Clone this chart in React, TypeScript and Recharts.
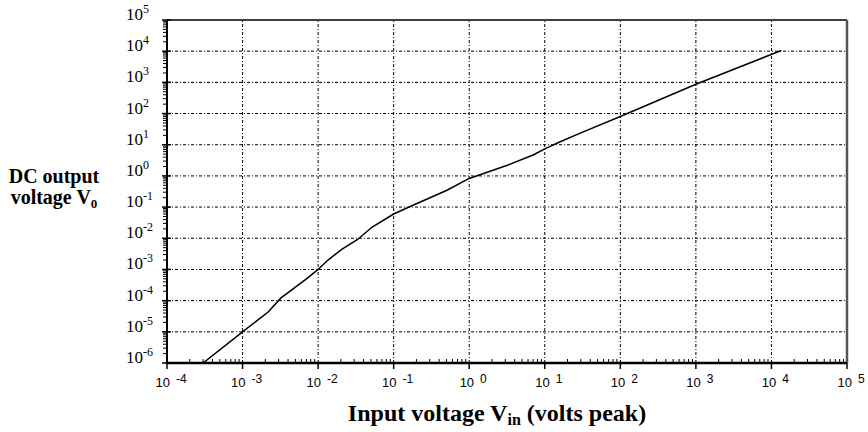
import { Line, LineChart, ReferenceLine, XAxis, YAxis } from 'recharts';

// values (log-log)
const inputVolts = [
  3e-4, 1e-3, 2.2e-3, 3.2e-3, 6.8e-3, 1e-2, 1.35e-2, 2.1e-2, 3.3e-2, 5.2e-2,
  1e-1, 1.8e-1, 0.5, 1, 3.2, 7, 10, 16, 30, 100, 1000, 1.35e4,
];
const outputVolts = [
  1e-6, 1e-5, 4.4e-5, 1.2e-4, 4.7e-4, 1e-3, 2e-3, 4.6e-3, 9e-3, 2.3e-2,
  6e-2, 1.15e-1, 0.34, 0.83, 2.2, 4.7, 7.4, 12.5, 24, 80, 870, 1.05e4,
];

const xDecades = [-4, -3, -2, -1, 0, 1, 2, 3, 4, 5];
const yDecades = [-6, -5, -4, -3, -2, -1, 0, 1, 2, 3, 4, 5];
const minorSteps = [2, 3, 4, 5, 6, 7, 8, 9];

const data = inputVolts.map((vin, i) => ({ vin, vout: outputVolts[i] }));

const majorX = xDecades.map((e) => Math.pow(10, e));
const majorY = yDecades.map((e) => Math.pow(10, e));
const minorX = xDecades
  .slice(0, -1)
  .flatMap((e) => minorSteps.map((m) => m * Math.pow(10, e)));
const minorY = yDecades
  .slice(0, -1)
  .flatMap((e) => minorSteps.map((m) => m * Math.pow(10, e)));

const majorXSet = new Set(majorX);
const majorYSet = new Set(majorY);

const gridDash = '3 2 1 2';

const XTick = (props: any) => {
  const { x, y, payload } = props;
  const v = payload.value;
  if (!majorXSet.has(v)) {
    return <line x1={x} x2={x} y1={y - 1} y2={y - 4} stroke="#000" />;
  }
  const e = Math.round(Math.log10(v));
  return (
    <g>
      <line x1={x} x2={x} y1={y} y2={y + 6} stroke="#000" strokeWidth={1.5} />
      <text
        x={x + 4}
        y={y + 24}
        textAnchor="middle"
        fontFamily="'Liberation Sans', Arial, sans-serif"
        fontSize={13}
        fill="#000"
      >
        10
        <tspan dx={6} dy={-4} fontSize={12}>
          {e}
        </tspan>
      </text>
    </g>
  );
};

const YTick = (props: any) => {
  const { x, y, payload } = props;
  const v = payload.value;
  if (!majorYSet.has(v)) {
    return <line x1={x} x2={x - 4} y1={y} y2={y} stroke="#000" />;
  }
  const e = Math.round(Math.log10(v));
  return (
    <g>
      <line x1={x - 5} x2={x + 4} y1={y} y2={y} stroke="#000" strokeWidth={1.5} />
      <text
        x={x - 41}
        y={y}
        textAnchor="start"
        fontFamily="'Liberation Serif', 'Times New Roman', serif"
        fontSize={17}
        fill="#000"
      >
        10
        <tspan dy={-7} fontSize={12}>
          {e}
        </tspan>
      </text>
    </g>
  );
};

export default function App() {
  return (
    <div
      style={{
        position: 'absolute',
        left: 0,
        top: 0,
        width: 868,
        height: 432,
        background: '#fff',
      }}
    >
      <LineChart
        width={868}
        height={432}
        data={data}
        margin={{ top: 20, right: 21, left: 0, bottom: 0 }}
      >
        {majorX.slice(1, -1).map((v) => (
          <ReferenceLine
            key={'vx' + v}
            x={v}
            stroke="#000"
            strokeWidth={1}
            strokeDasharray={gridDash}
          />
        ))}
        {majorY.slice(1, -1).map((v) => (
          <ReferenceLine
            key={'hy' + v}
            y={v}
            stroke="#000"
            strokeWidth={1}
            strokeDasharray={gridDash}
          />
        ))}
        <ReferenceLine y={1e5} stroke="#000" strokeWidth={1.5} />
        <ReferenceLine x={1e5} stroke="#555" strokeWidth={2.5} />
        <XAxis
          dataKey="vin"
          type="number"
          scale="log"
          domain={[1e-4, 1e5]}
          allowDataOverflow
          ticks={[...majorX, ...minorX]}
          interval={0}
          height={69}
          tickSize={0}
          tickMargin={0}
          tickLine={false}
          axisLine={{ stroke: '#000', strokeWidth: 2.5 }}
          tick={<XTick />}
        />
        <YAxis
          dataKey="vout"
          type="number"
          scale="log"
          domain={[1e-6, 1e5]}
          allowDataOverflow
          ticks={[...majorY, ...minorY]}
          interval={0}
          width={167}
          tickSize={0}
          tickMargin={0}
          tickLine={false}
          axisLine={{ stroke: '#000', strokeWidth: 2 }}
          tick={<YTick />}
        />
        <Line
          type="linear"
          dataKey="vout"
          stroke="#000"
          strokeWidth={1.5}
          dot={false}
          isAnimationActive={false}
        />
      </LineChart>
      <svg
        width={868}
        height={432}
        style={{ position: 'absolute', left: 0, top: 0, pointerEvents: 'none' }}
      >
        <g
          fontFamily="'Liberation Serif', 'Times New Roman', serif"
          fontWeight="bold"
          fill="#000"
        >
          <text x={54} y={183} fontSize={20} textAnchor="middle">
            DC output
          </text>
          <text x={54} y={204} fontSize={20} textAnchor="middle">
            voltage V
            <tspan fontSize={13} dy={4}>
              0
            </tspan>
          </text>
          <text x={497} y={421} fontSize={24} textAnchor="middle">
            Input voltage V
            <tspan fontSize={16} dy={4}>
              in
            </tspan>
            <tspan dy={-4}> (volts peak)</tspan>
          </text>
        </g>
      </svg>
    </div>
  );
}
